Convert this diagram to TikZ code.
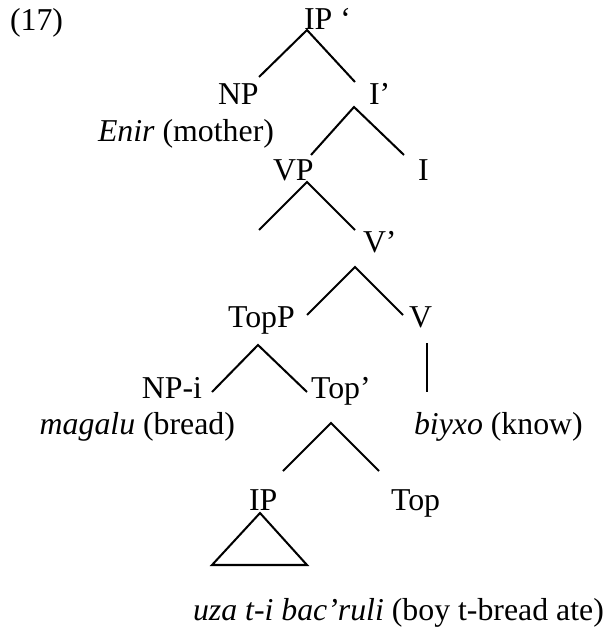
\documentclass[tikz,border=0pt]{standalone}
\usepackage{fontspec}
\setmainfont{Liberation Serif}

\begin{document}
\begin{tikzpicture}[x=0.396pt, y=-0.396pt, line width=0.8pt,
    lab/.style={anchor=base west, inner sep=0pt, font=\fontsize{12.6}{15}\selectfont}]
    \useasboundingbox (0,0) rectangle (608,629);

    % Labels
    \node[lab] (ex) at (9,31) {(17)};
    \node[lab] (ip) at (303,30) {IP `};
    \node[lab] (np) at (217,105) {NP};
    \node[lab] (ibar) at (368,105) {I'};
    \node[lab] (enir) at (97,141) {\textit{Enir} (mother)};
    \node[lab] (vp) at (272,180) {VP};
    \node[lab] (i) at (417,180) {I};
    \node[lab] (vbar) at (362,252) {V'};
    \node[lab] (topp) at (227,327) {TopP};
    \node[lab] (v) at (408,327) {V};
    \node[lab, anchor=base east] (npi) at (203,398) {NP-i};
    \node[lab] (topbar) at (310,398) {Top'};
    \node[lab, anchor=base east] (magalu) at (236,434) {\textit{magalu} (bread)};
    \node[lab] (biyxo) at (413,434) {\textit{biyxo} (know)};
    \node[lab] (ipb) at (248,510) {IP};
    \node[lab] (top) at (390,510) {Top};
    \node[lab] (uza) at (192,620) {\textit{uza t-i bac'ruli} (boy t-bread ate)};

    % Branch points
    \coordinate (ip-a) at (307,30);
    \coordinate (np-e) at (259,77);
    \coordinate (ibar-e) at (355,82);
    \coordinate (ibar-a) at (354,107);
    \coordinate (vp-e) at (311,155);
    \coordinate (i-e) at (404,155);
    \coordinate (vp-a) at (307,182);
    \coordinate (vp-l) at (259,230);
    \coordinate (vbar-e) at (355,230);
    \coordinate (vbar-a) at (355,267);
    \coordinate (topp-e) at (307,315);
    \coordinate (v-e) at (403,315);
    \coordinate (topp-a) at (258,345);
    \coordinate (npi-e) at (212,392);
    \coordinate (topbar-e) at (307,392);
    \coordinate (v-a) at (427,343);
    \coordinate (biyxo-e) at (427,392);
    \coordinate (topbar-a) at (331,423);
    \coordinate (ipb-e) at (283,471);
    \coordinate (top-e) at (379,471);
    \coordinate (ipb-a) at (260,513);
    \coordinate (tri-l) at (212,565);
    \coordinate (tri-r) at (307,565);

    % Branches
    \foreach \a/\l/\r in {ip-a/np-e/ibar-e, ibar-a/vp-e/i-e, vp-a/vp-l/vbar-e,
        vbar-a/topp-e/v-e, topp-a/npi-e/topbar-e, topbar-a/ipb-e/top-e}
        \draw (\l) -- (\a) -- (\r);
    \draw (v-a) -- (biyxo-e);
    \draw (ipb-a) -- (tri-l) -- (tri-r) -- cycle;
\end{tikzpicture}
\end{document}
